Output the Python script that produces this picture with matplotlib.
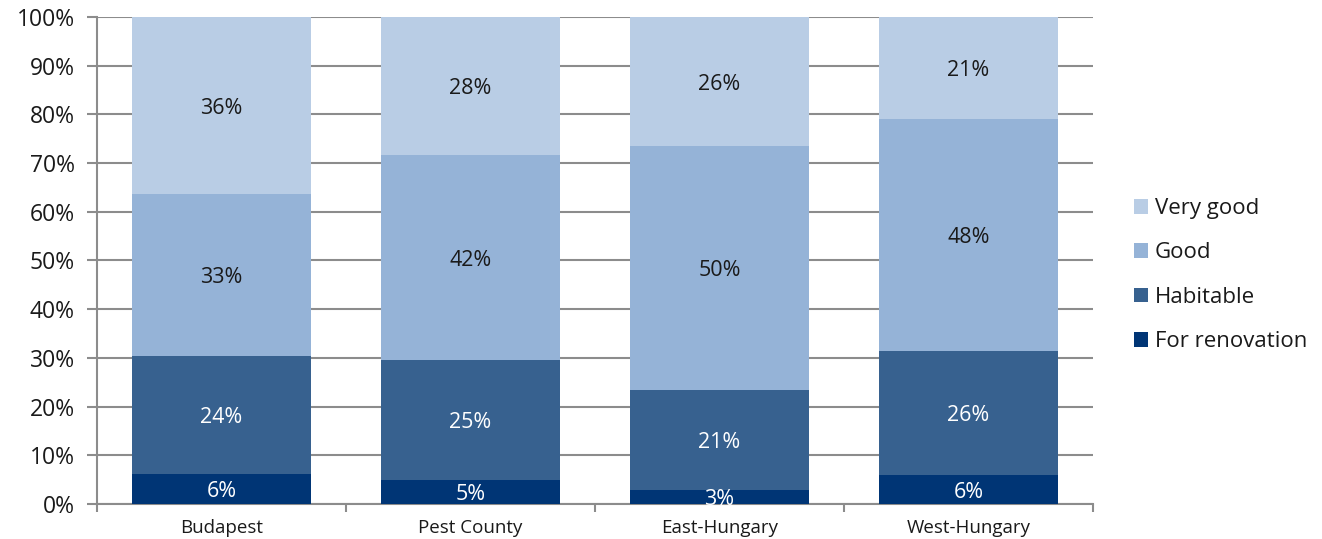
import numpy as np
import matplotlib.pyplot as plt
from matplotlib.ticker import FixedLocator, PercentFormatter

plt.rcParams["font.family"] = ["Open Sans", "DejaVu Sans"]

regions = ["Budapest", "Pest County", "East-Hungary", "West-Hungary"]
series = ["For renovation", "Habitable", "Good", "Very good"]
for_renovation = [6.2, 5.0, 2.9, 6.0]
habitable = [24.2, 24.6, 20.6, 25.5]
good = [33.3, 42.1, 50.1, 47.6]
very_good = [36.3, 28.3, 26.4, 20.9]

colors = ["#003575", "#37618F", "#95B3D7", "#B9CDE5"]
label_colors = ["white", "white", "#1a1a1a", "#1a1a1a"]
grid_col = "#8c8c8c"

fig = plt.figure(figsize=(13.22, 5.39), dpi=100)
ax = fig.add_axes([0.0734, 0.065, 0.7534, 0.9035])

x = np.arange(len(regions))
bottom = np.zeros(len(regions))
handles = []
for vals, name, col, lcol in zip([for_renovation, habitable, good, very_good],
                                 series, colors, label_colors):
    vals = np.array(vals)
    bars = ax.bar(x, vals, width=0.72, bottom=bottom, color=col, label=name, zorder=3)
    handles.append(bars)
    for xi, v, b in zip(x, vals, bottom):
        ax.annotate(f"{v:.0f}%", (xi, b + v / 2), xytext=(0, -2),
                    textcoords="offset points", ha="center", va="center",
                    fontsize=15.5, color=lcol, zorder=4)
    bottom += vals

ax.set_xlim(-0.5, 3.5)
ax.set_ylim(0, 100)
ax.yaxis.set_major_locator(FixedLocator(np.arange(0, 101, 10)))
ax.yaxis.set_major_formatter(PercentFormatter(decimals=0))
ax.tick_params(axis="y", labelsize=16.5, colors=grid_col, labelcolor="#1a1a1a",
               length=7, width=1.5, pad=9, direction="out")

ax.set_xticks(x)
ax.set_xticklabels(regions, fontsize=13.5, color="#1a1a1a")
ax.tick_params(axis="x", which="major", length=0, pad=11)
ax.xaxis.set_minor_locator(FixedLocator(np.arange(-0.5, 4, 1)))
ax.tick_params(axis="x", which="minor", length=6, width=1.5, colors=grid_col,
               direction="out")

ax.grid(axis="y", color=grid_col, linewidth=1.5, zorder=0)
ax.set_axisbelow(True)
for s in ["top", "right"]:
    ax.spines[s].set_visible(False)
for s in ["left", "bottom"]:
    ax.spines[s].set_color(grid_col)
    ax.spines[s].set_linewidth(1.5)

leg = ax.legend(handles[::-1], series[::-1], loc="center left",
                bbox_to_anchor=(1.032, 0.47), frameon=False, fontsize=16,
                handlelength=0.65, handleheight=0.65, handletextpad=0.3,
                labelspacing=1.05, borderaxespad=0)
for t in leg.get_texts():
    t.set_color("#1a1a1a")

fig.savefig("out.png", dpi=100)
